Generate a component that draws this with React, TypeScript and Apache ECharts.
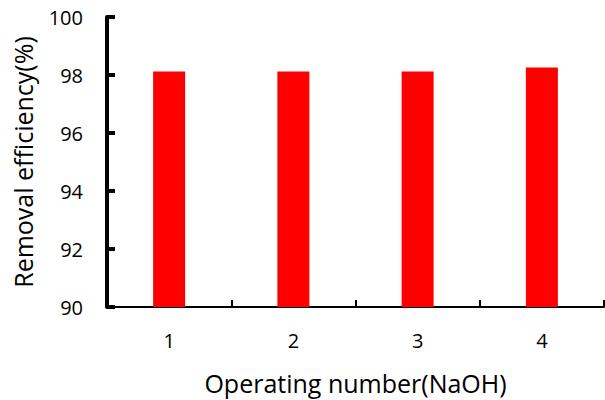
import React, { useEffect, useRef } from "react";
import * as echarts from "echarts";

const categories = ["1", "2", "3", "4"];
const removalEfficiency = [98.12, 98.12, 98.12, 98.26];
const yMin = 90;
const yMax = 100;
const yInterval = 2;

export default function App() {
  const ref = useRef<HTMLDivElement>(null);
  useEffect(() => {
    const chart = echarts.init(ref.current!, null, { renderer: "svg" });
    const font = "Open Sans";
    chart.setOption({
      animation: false,
      grid: { left: 107, right: 1, top: 17, bottom: 93 },
      xAxis: {
        type: "category",
        data: categories,
        name: "Operating number(NaOH)",
        nameLocation: "middle",
        nameGap: 63,
        nameTextStyle: { fontFamily: font, fontSize: 25, color: "#000" },
        axisLine: { lineStyle: { color: "#000", width: 2 } },
        axisTick: { show: true, inside: true, length: 7, lineStyle: { color: "#000", width: 2 } },
        axisLabel: { fontFamily: font, fontSize: 20, color: "#000", margin: 23 },
      },
      yAxis: {
        type: "value",
        min: yMin,
        max: yMax,
        interval: yInterval,
        name: "Removal efficiency(%)",
        nameLocation: "middle",
        nameGap: 72,
        nameTextStyle: { fontFamily: font, fontSize: 25, color: "#000" },
        axisLine: { show: true, lineStyle: { color: "#000", width: 4 } },
        axisTick: { show: true, inside: true, length: 8, lineStyle: { color: "#000", width: 4 } },
        axisLabel: { fontFamily: font, fontSize: 20, color: "#000", margin: 24 },
        splitLine: { show: false },
      },
      series: [
        {
          type: "bar",
          data: removalEfficiency,
          barWidth: 32,
          itemStyle: { color: "#ff0000" },
        },
      ],
    });
    return () => chart.dispose();
  }, []);
  return (
    <div
      ref={ref}
      style={{ position: "fixed", left: 0, top: 0, width: 605, height: 400, background: "#fff" }}
    />
  );
}
